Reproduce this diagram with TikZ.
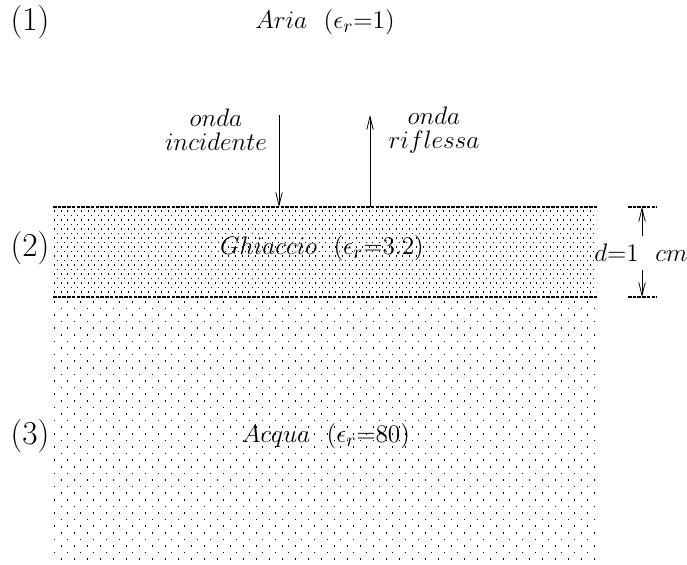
\documentclass[tikz,border=0pt]{standalone}
\usepackage{tikz}
\usetikzlibrary{positioning,arrows.meta,calc}
\tikzset{
  num/.style={font=\fontsize{19}{23}\selectfont, inner sep=0pt},
  mlbl/.style={font=\fontsize{15.5}{19}\selectfont, inner sep=0pt},
  wlbl/.style={mlbl, align=center, font=\fontsize{15.5}{13.5}\selectfont},
  iface/.style={line width=0.8pt, dash pattern=on 2pt off 0.7pt},
  wave/.style={-{Straight Barb[length=2.6mm,width=1.3mm]}, line width=0.45pt},
  dot/.style={fill=black}
}
\begin{document}
\begin{tikzpicture}[x=0.02cm, y=-0.02cm]
\useasboundingbox (0,0) rectangle (687,565);
% dotted layers
\begin{scope}
  \clip (53,207) rectangle (597,565);
  \foreach \r in {0,...,18}
    \foreach \c in {0,...,81}
      \fill[dot] ({54+6.7*\c+3.35*mod(\r,2)},{210+4.5*\r}) rectangle ++(0.8,1.5);
  \foreach \r in {0,...,39}
    \foreach \c in {0,...,42}
      \fill[dot] ({54+13*\c+6.5*mod(\r,2)},{301+6.6*\r}) rectangle ++(0.8,1.5);
\end{scope}
% interfaces
\coordinate (t1) at (53,207);
\coordinate (t2) at (597,207);
\coordinate (b1) at (53,297);
\coordinate (b2) at (597,297);
\draw[iface] (t1) -- (t2);
\draw[iface] (b1) -- (b2);
% labels
\node[num] (n1) at (30,22) {(1)};
\node[num] (n2) at (30,248) {(2)};
\node[num] (n3) at (30,436) {(3)};
\node[mlbl] (aria) at (325,22) {$Aria$\ \ $(\epsilon_r{=}1)$};
\node[mlbl] (ghiaccio) at (322,248) {$Ghiaccio$\ \ $(\epsilon_r{=}3.2)$};
\node[mlbl] (acqua) at (326,436) {$Acqua$\ \ $(\epsilon_r{=}80)$};
% waves
\node[wlbl] (inc) at (216,130) {$onda$\\$incidente$};
\node[wlbl] (rifl) at (434,130) {$onda$\\$riflessa$};
\coordinate (incA) at (279,115);
\coordinate (incB) at (279,207);
\coordinate (rifA) at (370,207);
\coordinate (rifB) at (370,115);
\draw[wave] (incA) -- (incB);
\draw[wave] (rifA) -- (rifB);
% thickness
\coordinate (d1) at (628,207);
\coordinate (d2) at (657,207);
\coordinate (d3) at (628,297);
\coordinate (d4) at (657,297);
\draw[iface] (d1) -- (d2);
\draw[iface] (d3) -- (d4);
\node[mlbl] (dim) at (641,253) {$d{=}1$\ \ $cm$};
\coordinate (dtop) at (642,207);
\coordinate (dbot) at (642,297);
\draw[wave] ($(dim.north)+(1,-8)$) -- (dtop);
\draw[wave] ($(dim.south)+(1,8)$) -- (dbot);
\end{tikzpicture}
\end{document}
